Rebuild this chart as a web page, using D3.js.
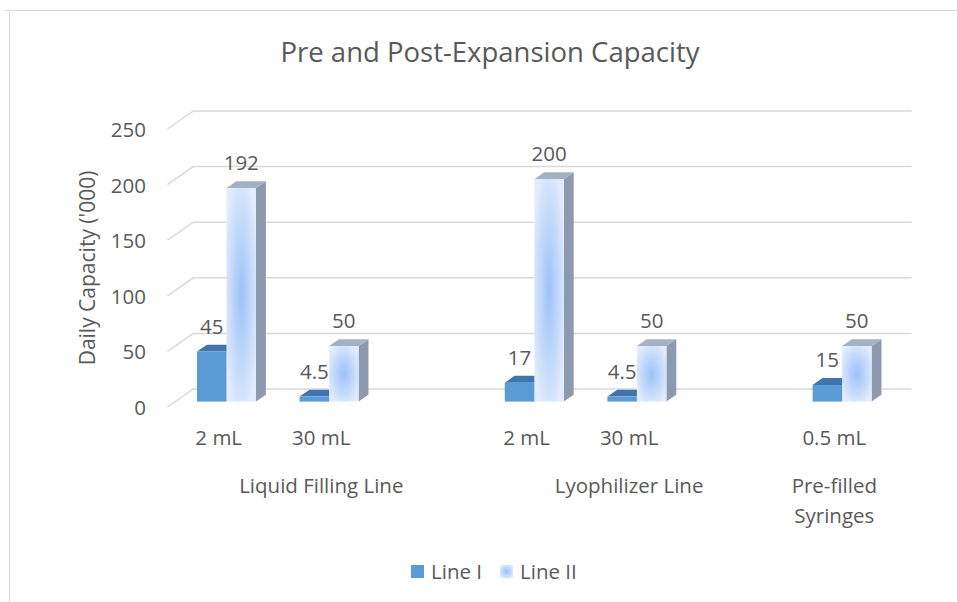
<!DOCTYPE html>
<html>
<head>
<meta charset="utf-8">
<script src="https://cdn.jsdelivr.net/npm/d3@7"></script>
<style>
  body { margin: 0; background: #fff; }
  text { font-family: "Open Sans", "Noto Sans", sans-serif; fill: #595959; }
</style>
</head>
<body>
<div id="chart"></div>
<script>
// data
let categories = ["2 mL", "30 mL", "", "2 mL", "30 mL", "", "0.5 mL"];
let groups = [
    {name: ["Liquid Filling Line"], from: 0, to: 2},
    {name: ["Lyophilizer Line"], from: 3, to: 5},
    {name: ["Pre-filled", "Syringes"], from: 6, to: 6}
];
let seriesNames = ["Line I", "Line II"];
let lineI  = [45, 4.5, null, 17, 4.5, null, 15];
let lineII = [192, 50, null, 200, 50, null, 50];
let yTicks = [0, 50, 100, 150, 200, 250];

var width = 957,
    height = 602,
    fs = 20.5;

var svg = d3.select('#chart').append('svg')
    .attr('width', width)
    .attr('height', height);

// chart frame
svg.append("path")
    .attr("d", "M5,10.5H957M9.5,10V602")
    .attr("stroke", "#d9d9d9")
    .attr("fill", "none");

// scales (front plane of the 3d box)
let scaleX = d3.scaleBand().domain(d3.range(categories.length)).range([167.4, 885.6]);
let scaleY = d3.scaleLinear().domain([0, 250]).range([407, 129]);
let depthX = 26, depthY = -18;   // offset from front plane to back wall

// project (x, value, depth 0..1) to screen
function P(x, v, d) {
    return [x + d * depthX, scaleY(v) + d * depthY];
}

let defs = svg.append("defs");
let grad = defs.append("radialGradient").attr("id", "g2")
    .attr("cx", "50%").attr("cy", "50%").attr("r", "60%");
grad.append("stop").attr("offset", "0%").attr("stop-color", "#9cc2f7");
grad.append("stop").attr("offset", "100%").attr("stop-color", "#e2ecfd");

// gridlines: diagonal on the side wall + line on the back wall
let grid = svg.append("g");
yTicks.forEach(t => {
    let a = P(scaleX.range()[0], t, 0),
        b = P(scaleX.range()[0], t, 1),
        c = P(scaleX.range()[1], t, 1);
    grid.append("path")
        .attr("d", "M" + a + "L" + b + "L" + c)
        .attr("fill", "none")
        .attr("stroke", "#d9d9d9")
        .attr("stroke-width", 1.5);
});

// y axis labels
let yAxis = svg.append("g")
    .attr("transform", "translate(146,1)")
    .call(d3.axisLeft(scaleY).tickValues(yTicks).tickSize(0).tickPadding(0));
yAxis.select(".domain").remove();
yAxis.selectAll("text").attr("font-size", fs).attr("fill", "#595959")
    .attr("font-family", "Open Sans");

svg.append("text")
    .attr("transform", "translate(88,268) rotate(-90)")
    .attr("text-anchor", "middle")
    .attr("dy", "0.35em")
    .attr("font-size", 21)
    .text("Daily Capacity ('000)");

// bars
let barW = 29.5, d0 = 0.3, d1 = 0.68;
let styles = [
    {front: "#5b9bd5", top: "#3f76ad", side: "#41719c"},
    {front: "url(#g2)", top: "#a4b1c4", side: "#8c99ae"}
];
let barData = [];
categories.forEach((c, i) => {
    [lineI[i], lineII[i]].forEach((v, s) => {
        if (v == null) return;
        barData.push({i, s, v});
    });
});

let bars = svg.append("g").selectAll("g").data(barData).enter().append("g");
bars.each(function(d) {
    let g = d3.select(this);
    let cx = scaleX(d.i) + scaleX.bandwidth() / 2;
    let x0 = cx - barW + d.s * barW, x1 = x0 + barW;
    let st = styles[d.s];
    let pts = (arr) => arr.map(p => p.join(",")).join(" ");
    // side
    g.append("polygon")
        .attr("points", pts([P(x1, 0, d0), P(x1, 0, d1), P(x1, d.v, d1), P(x1, d.v, d0)]))
        .attr("fill", st.side);
    // top
    g.append("polygon")
        .attr("points", pts([P(x0, d.v, d0), P(x1, d.v, d0), P(x1, d.v, d1), P(x0, d.v, d1)]))
        .attr("fill", st.top);
    // front
    let f0 = P(x0, d.v, d0), f1 = P(x1, 0, d0);
    g.append("rect")
        .attr("x", f0[0]).attr("y", f0[1])
        .attr("width", f1[0] - f0[0]).attr("height", f1[1] - f0[1])
        .attr("fill", st.front);
});

// data labels
svg.append("g").selectAll("text").data(barData).enter().append("text")
    .attr("x", d => {
        let cx = scaleX(d.i) + scaleX.bandwidth() / 2;
        return P(cx - barW / 2 + d.s * barW, d.v, d0)[0];
    })
    .attr("y", d => P(0, d.v, d0)[1] - 25)
    .attr("dy", "0.35em")
    .attr("text-anchor", "middle")
    .attr("font-size", fs)
    .attr("fill", "#404040")
    .text(d => d.v);

// category axis
let xAxis = svg.append("g")
    .attr("transform", "translate(0,438)")
    .call(d3.axisBottom(scaleX).tickFormat(i => categories[i]).tickSize(0).tickPadding(0));
xAxis.select(".domain").remove();
xAxis.selectAll("text").attr("font-size", fs).attr("fill", "#595959")
    .attr("font-family", "Open Sans").attr("dy", "0.35em");

// group labels
groups.forEach(gr => {
    let cx = (scaleX(gr.from) + scaleX(gr.to) + scaleX.bandwidth()) / 2;
    let t = svg.append("text")
        .attr("x", cx).attr("y", 486)
        .attr("text-anchor", "middle")
        .attr("font-size", fs);
    gr.name.forEach((n, k) => {
        t.append("tspan").attr("x", cx).attr("dy", k == 0 ? "0.35em" : 30).text(n);
    });
});

// title
svg.append("text")
    .attr("x", 490).attr("y", 52)
    .attr("dy", "0.35em")
    .attr("text-anchor", "middle")
    .attr("font-size", 27.5)
    .text("Pre and Post-Expansion Capacity");

// legend
let legX = [411, 500];
let leg = svg.append("g").selectAll("g").data(seriesNames).enter().append("g")
    .attr("transform", (d, i) => "translate(" + legX[i] + ",565)");
leg.append("rect").attr("width", 13).attr("height", 13)
    .attr("fill", (d, i) => i == 0 ? "#5b9bd5" : "url(#g2)");
leg.append("text").attr("x", 20).attr("y", 6.5).attr("dy", "0.35em")
    .attr("font-size", fs).text(d => d);
</script>
</body>
</html>
